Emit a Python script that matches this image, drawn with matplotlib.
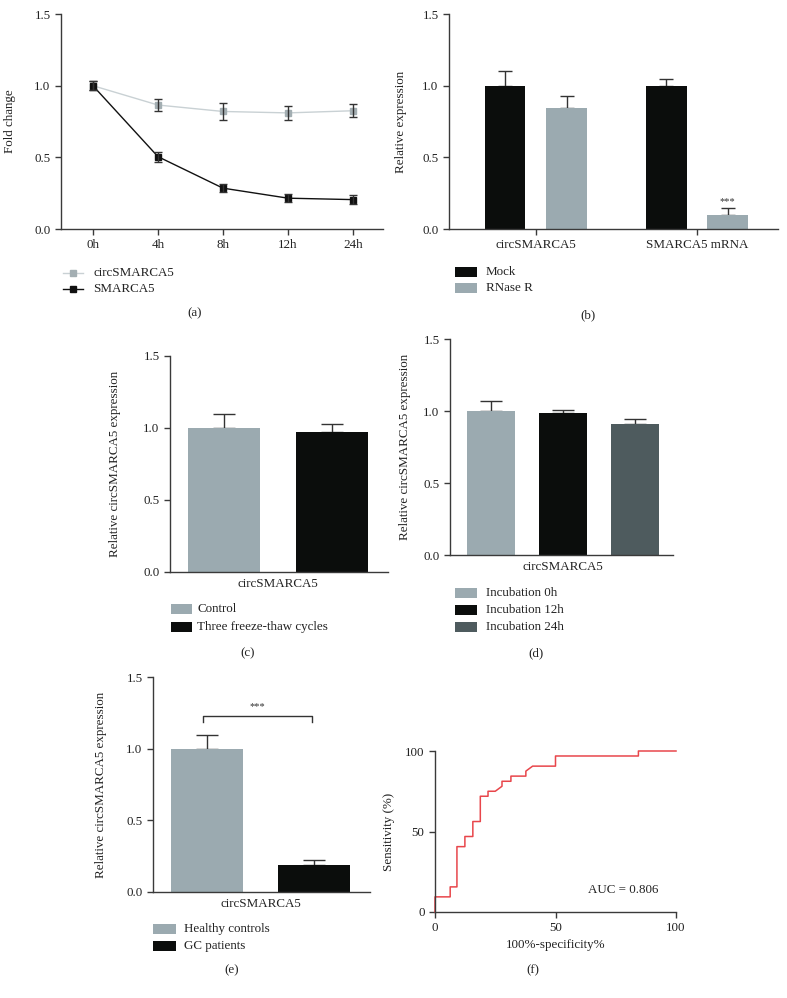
import matplotlib
matplotlib.use("Agg")
import matplotlib.pyplot as plt
from matplotlib.patches import Rectangle
from matplotlib.lines import Line2D

plt.rcParams['font.family'] = ['Liberation Serif', 'DejaVu Serif']
plt.rcParams['font.size'] = 9

W, H = 787, 998
FS = 9.4

# ---------------- data ----------------
# (a)
time_labels = ['0h', '4h', '8h', '12h', '24h']
circ_fold = [1.0, 0.865, 0.82, 0.81, 0.825]
circ_fold_err = [0.03, 0.04, 0.06, 0.05, 0.045]
smarca5_fold = [1.0, 0.505, 0.285, 0.215, 0.205]
smarca5_fold_err = [0.03, 0.035, 0.03, 0.03, 0.03]

# (b)
b_groups = ['circSMARCA5', 'SMARCA5 mRNA']
b_mock = [1.0, 1.0]
b_mock_err = [0.105, 0.05]
b_rnase = [0.845, 0.095]
b_rnase_err = [0.085, 0.055]

# (c)
c_labels = ['Control', 'Three freeze-thaw cycles']
c_values = [1.0, 0.975]
c_err = [0.10, 0.055]

# (d)
d_labels = ['Incubation 0h', 'Incubation 12h', 'Incubation 24h']
d_values = [1.0, 0.986, 0.912]
d_err = [0.07, 0.02, 0.032]

# (e)
e_labels = ['Healthy controls', 'GC patients']
e_values = [1.0, 0.188]
e_err = [0.095, 0.033]

# (f) ROC curve
roc_x = [0, 0, 6.3, 6.3, 9.1, 9.1, 12.4, 12.4, 15.7, 15.7, 18.8, 18.8, 22.0, 22.0,
         25.0, 27.8, 27.8, 31.5, 31.5, 37.7, 37.7, 40.5, 50.0, 50.0, 84.4, 84.4, 100]
roc_y = [0, 9.4, 9.4, 15.6, 15.6, 40.6, 40.6, 46.9, 46.9, 56.2, 56.2, 71.9, 71.9, 75.0,
         75.0, 78.1, 81.2, 81.2, 84.4, 84.4, 87.5, 90.6, 90.6, 96.9, 96.9, 100, 100]
auc_text = 'AUC = 0.806'

GRAY = '#9BAAB0'
BLACK = '#0B0D0C'
SLATE = '#4E5B5E'
AXC = '#3a3a3a'
TXT = '#222222'
RED = '#E8464B'


def add_ax(x0, y0, x1, y1):
    return fig.add_axes([x0 / W, 1 - y1 / H, (x1 - x0) / W, (y1 - y0) / H])


def style(ax):
    for s in ['top', 'right']:
        ax.spines[s].set_visible(False)
    for s in ['left', 'bottom']:
        ax.spines[s].set_color(AXC)
        ax.spines[s].set_linewidth(1.0)
    ax.tick_params(colors=AXC, labelcolor=TXT, length=4, width=1.0, labelsize=FS)


def ylab(ax, text, xpix):
    ax.set_ylabel(text, fontsize=FS, color=TXT)
    bb = ax.get_position()
    ax.yaxis.set_label_coords(xpix / W, bb.y0 + bb.height / 2, transform=fig.transFigure)


def swatch(x0, yc, color, text, tx, w=22, h=10):
    fig.add_artist(Rectangle((x0 / W, 1 - (yc + h / 2) / H), w / W, h / H,
                             transform=fig.transFigure, facecolor=color, edgecolor='none'))
    fig.text(tx / W, 1 - yc / H, text, ha='left', va='center', fontsize=FS, color=TXT)


def caption(x, y, t):
    fig.text(x / W, 1 - y / H, t, ha='center', va='center', fontsize=FS, color=TXT)


fig = plt.figure(figsize=(W / 100, H / 100), dpi=100)

# ---------------- (a) ----------------
ax = add_ax(61, 14, 383, 229)
style(ax)
xa = list(range(len(time_labels)))
ax.plot(xa, circ_fold, color='#C9D1D4', lw=1.0, marker='s', ms=4.3,
        mfc='#A3AEB2', mec='#A3AEB2', zorder=2)
ax.errorbar(xa, circ_fold, yerr=circ_fold_err, fmt='none', ecolor='#333333',
            elinewidth=1.0, capsize=3, capthick=1.0, zorder=3)
ax.plot(xa, smarca5_fold, color='#111111', lw=1.0, marker='s', ms=4.3,
        mfc='#111111', mec='#111111', zorder=2)
ax.errorbar(xa, smarca5_fold, yerr=smarca5_fold_err, fmt='none', ecolor='#333333',
            elinewidth=1.0, capsize=3, capthick=1.0, zorder=3)
ax.set_xlim(-0.49, 4.46)
ax.set_ylim(0, 1.5)
ax.set_yticks([0, 0.5, 1.0, 1.5])
ax.set_yticklabels(['0.0', '0.5', '1.0', '1.5'])
ax.set_xticks(xa)
ax.set_xticklabels(time_labels)
ylab(ax, 'Fold change', 16)
# legend (a)
for yc, col, mc, lab in [(273, '#C9D1D4', '#A3AEB2', 'circSMARCA5'),
                         (289, '#111111', '#111111', 'SMARCA5')]:
    fig.add_artist(Line2D([63 / W, 83 / W], [1 - yc / H, 1 - yc / H], transform=fig.transFigure,
                          color=col, lw=1.0))
    fig.add_artist(Line2D([73 / W], [1 - yc / H], transform=fig.transFigure, marker='s', ms=4.3,
                          mfc=mc, mec=mc, lw=0))
    fig.text(93 / W, 1 - yc / H, lab, ha='left', va='center', fontsize=FS, color=TXT)
caption(195, 313, '(a)')

# ---------------- (b) ----------------
ax = add_ax(449, 14, 778, 229)
style(ax)
xb = list(range(len(b_groups)))
off, bw = 0.19, 0.25
xm = [x - off for x in xb]
xr = [x + off for x in xb]
ax.bar(xm, b_mock, width=bw, color=BLACK, zorder=2)
ax.bar(xr, b_rnase, width=bw, color=GRAY, zorder=2)
ax.errorbar(xm, b_mock, yerr=[[0] * 2, b_mock_err], fmt='none', ecolor='#333333',
            elinewidth=1.0, capsize=5, capthick=1.0, zorder=1)
ax.errorbar(xr, b_rnase, yerr=[[0] * 2, b_rnase_err], fmt='none', ecolor='#333333',
            elinewidth=1.0, capsize=5, capthick=1.0, zorder=1)
ax.text(xr[1], b_rnase[1] + b_rnase_err[1] + 0.01, '***', ha='center', va='bottom',
        fontsize=7.5, color='#333333')
ax.set_xlim(-0.54, 1.503)
ax.set_ylim(0, 1.5)
ax.set_yticks([0, 0.5, 1.0, 1.5])
ax.set_yticklabels(['0.0', '0.5', '1.0', '1.5'])
ax.set_xticks(xb)
ax.set_xticklabels(b_groups)
ylab(ax, 'Relative expression', 407)
swatch(455, 272, BLACK, 'Mock', 486)
swatch(455, 288, GRAY, 'RNase R', 486)
caption(588, 315, '(b)')


def simple_bars(ax, vals, errs, colors, xlim, xcenter):
    xs = list(range(len(vals)))
    ax.bar(xs, vals, width=0.667, color=colors, zorder=2)
    ax.errorbar(xs, vals, yerr=[[0] * len(vals), errs], fmt='none', ecolor='#333333',
                elinewidth=1.0, capsize=8, capthick=1.0, zorder=1)
    ax.set_xlim(*xlim)
    ax.set_ylim(0, 1.5)
    ax.set_yticks([0, 0.5, 1.0, 1.5])
    ax.set_yticklabels(['0.0', '0.5', '1.0', '1.5'])
    ax.set_xticks([xcenter])
    ax.set_xticklabels(['circSMARCA5'])
    ax.tick_params(axis='x', length=0, pad=4)


# ---------------- (c) ----------------
ax = add_ax(170, 356, 388, 572)
style(ax)
simple_bars(ax, c_values, c_err, [GRAY, BLACK], (-0.5, 1.52), 0.5)
ylab(ax, 'Relative circSMARCA5 expression', 121)
swatch(171, 609, GRAY, c_labels[0], 197, w=21)
swatch(171, 627, BLACK, c_labels[1], 197, w=21)
caption(248, 653, '(c)')

# ---------------- (d) ----------------
ax = add_ax(450, 339, 673, 555)
style(ax)
simple_bars(ax, d_values, d_err, [GRAY, BLACK, SLATE], (-0.57, 2.53), 1)
ylab(ax, 'Relative circSMARCA5 expression', 411)
swatch(455, 593, GRAY, d_labels[0], 486)
swatch(455, 610, BLACK, d_labels[1], 486)
swatch(455, 627, SLATE, d_labels[2], 486)
caption(536, 653, '(d)')

# ---------------- (e) ----------------
ax = add_ax(153, 677, 370, 892)
style(ax)
simple_bars(ax, e_values, e_err, [GRAY, BLACK], (-0.5, 1.52), 0.5)
ax.plot([-0.03, -0.03, 0.98, 0.98], [1.186, 1.23, 1.23, 1.186], color='#333333', lw=1.0)
ax.text(0.475, 1.265, '***', ha='center', va='bottom', fontsize=7.5, color='#333333')
ylab(ax, 'Relative circSMARCA5 expression', 107)
swatch(153, 929, GRAY, e_labels[0], 184, w=23)
swatch(153, 946, BLACK, e_labels[1], 184, w=23)
caption(232, 970, '(e)')

# ---------------- (f) ----------------
ax = add_ax(435, 751, 676, 912)
style(ax)
ax.plot(roc_x, roc_y, color=RED, lw=1.1, clip_on=False)
ax.set_xlim(0, 100)
ax.set_ylim(0, 100)
ax.set_xticks([0, 50, 100])
ax.set_yticks([0, 50, 100])
ax.text(63.5, 13.7, auc_text, ha='left', va='center', fontsize=FS, color=TXT)
ax.set_xlabel('100%-specificity%', fontsize=FS, color=TXT, labelpad=3)
ylab(ax, 'Sensitivity (%)', 395)
caption(533, 970, '(f)')

fig.savefig('out.png', dpi=100)
